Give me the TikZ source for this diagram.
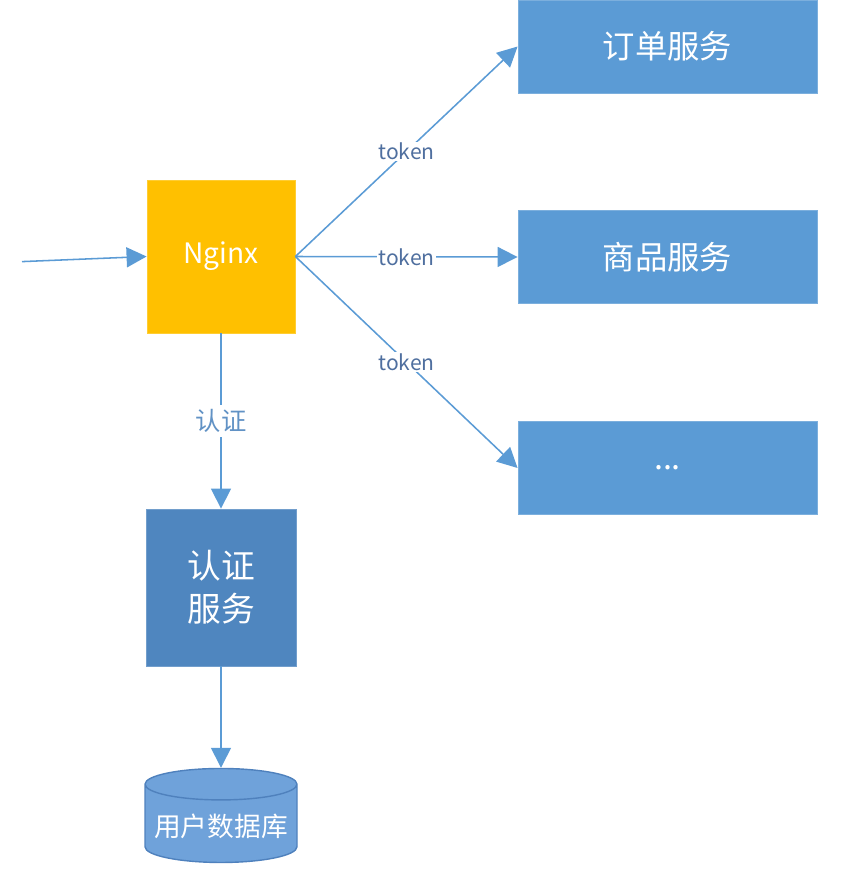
\documentclass[tikz,border=0pt]{standalone}
\usepackage{fontspec}
\setmainfont{Noto Sans CJK SC}
\usetikzlibrary{arrows.meta,shapes.geometric}
\definecolor{gwYEL}{HTML}{FFC000}
\definecolor{svcBLU}{HTML}{5B9BD5}
\definecolor{authBLU}{HTML}{4F86BF}
\definecolor{dbBLU}{HTML}{6FA2DA}
\definecolor{dbEDGE}{HTML}{4F81BD}
\definecolor{lblBLU}{HTML}{4F6F9F}

\begin{document}
\begin{tikzpicture}[
  box/.style={draw=#1!80!white, fill=#1, line width=0.6pt, text=white, align=center},
  svc/.style={box=svcBLU, minimum width=7.475cm, minimum height=2.325cm,
              font=\fontsize{23}{28}\selectfont},
  flow/.style={draw=svcBLU, line width=1.1pt, -{Triangle[length=0.5cm, width=0.5cm]}},
  tok/.style={font=\fontsize{15}{18}\selectfont, text=lblBLU, fill=white, inner sep=1pt}]
\useasboundingbox (0,0) rectangle (21.525,-21.725);
% gateway
\node[box=gwYEL, minimum width=3.7cm, minimum height=3.825cm,
      font=\fontsize{20}{24}\selectfont] (nginx) at (5.525,-6.4125) {Nginx};
\coordinate (client) at (0.55,-6.54);
% services
\foreach \n/\y/\t in {order/-1.1625/订单服务, goods/-6.425/商品服务}
  {\node[svc] (\n) at (16.6875,\y) {\t};}
\node[svc] (more) at (16.6875,-11.7) {...};
% auth
\node[box=authBLU, minimum width=3.75cm, minimum height=3.925cm,
      font=\fontsize{24}{30.5}\selectfont] (auth) at (5.525,-14.6875) {认证\\服务};
\node[cylinder, shape border rotate=90, aspect=0.22, draw=dbEDGE, fill=dbBLU,
      line width=1pt, text=white, minimum width=3.8cm, minimum height=2.35cm,
      font=\fontsize{19}{22}\selectfont] (db) at (5.525,-20.66) {用户数据库};
% connectors
\draw[flow] (client) -- (nginx.west);
\foreach \n in {order, goods, more}
  {\draw[flow] (nginx.east) -- node[tok]{token} (\n.west);}
\draw[flow] (nginx.south) -- node[tok, font=\fontsize{18}{22}\selectfont, text=authBLU!90!white, inner sep=3pt]{认证} (auth.north);
\draw[flow] (auth.south) -- (db.top);
\end{tikzpicture}
\end{document}
